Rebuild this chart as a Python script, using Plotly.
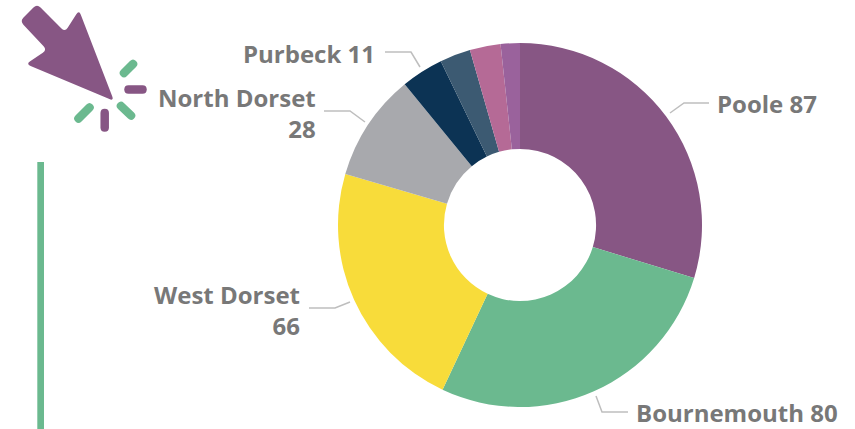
import plotly.graph_objects as go

districts = ["Poole", "Bournemouth", "West Dorset", "North Dorset", "Purbeck", "East Dorset", "Weymouth and Portland", "Christchurch"]
values = [87, 80, 66, 28, 11, 8, 8, 5]
colors = ["#875684", "#6BB98F", "#F8DC3A", "#A8A9AD", "#0C3354", "#3C5A72", "#B56A96", "#9A629C"]

W, H = 855, 429
TEXT = "#787878"
LEADER = "#BEBEBE"
PURPLE = "#875684"
GREEN = "#6BB98F"
FONT = "Open Sans"
FS = 24


def px(x):
    return x / W


def py(y):
    return 1 - y / H


def rounded(points, r):
    n = len(points)
    out = []
    for i in range(n):
        p0, p1, p2 = points[i - 1], points[i], points[(i + 1) % n]
        def toward(a, b, d):
            L = ((b[0] - a[0]) ** 2 + (b[1] - a[1]) ** 2) ** 0.5
            d = min(d, L / 2)
            return (a[0] + (b[0] - a[0]) * d / L, a[1] + (b[1] - a[1]) * d / L)
        a = toward(p1, p0, r)
        b = toward(p1, p2, r)
        out.append(f"{'M' if i == 0 else 'L'}{px(a[0]):.5f},{py(a[1]):.5f}")
        out.append(f"Q{px(p1[0]):.5f},{py(p1[1]):.5f} {px(b[0]):.5f},{py(b[1]):.5f}")
    return " ".join(out) + " Z"


def stadium(x0, y0, x1, y1, w):
    L = ((x1 - x0) ** 2 + (y1 - y0) ** 2) ** 0.5
    ux, uy = (x1 - x0) / L, (y1 - y0) / L
    nx, ny = -uy * w / 2, ux * w / 2
    ex, ey = ux * w / 2, uy * w / 2
    pts = [(x0 - ex + nx, y0 - ey + ny), (x1 + ex + nx, y1 + ey + ny),
           (x1 + ex - nx, y1 + ey - ny), (x0 - ex - nx, y0 - ey - ny)]
    return rounded(pts, w / 2)


def polyline(pts):
    return "M" + " L".join(f"{px(x):.5f},{py(y):.5f}" for x, y in pts)


fig = go.Figure(go.Pie(
    labels=districts,
    values=values,
    sort=False,
    direction="clockwise",
    rotation=0,
    hole=0.418,
    textinfo="none",
    marker=dict(colors=colors, line=dict(width=0)),
    domain=dict(x=[px(338), px(702)], y=[py(407), py(43)]),
    showlegend=False,
))

shapes = []
# icon
arrow = [(37, 4), (20, 21), (47, 50), (26, 64), (114, 101), (79, 10), (65, 32)]
shapes.append(dict(type="path", xref="paper", yref="paper", path=rounded(arrow, 5), fillcolor=PURPLE, line_width=0))
for (a, b, c, d, col) in [(124, 73, 133, 64, GREEN), (128.5, 89.5, 142.5, 89.5, PURPLE), (121, 106, 131, 115.5, GREEN),
                          (104.7, 113, 104.7, 127.5, PURPLE), (78.5, 118.5, 89.5, 107.5, GREEN)]:
    shapes.append(dict(type="path", xref="paper", yref="paper", path=stadium(a, b, c, d, 8.5), fillcolor=col, line_width=0))
shapes.append(dict(type="rect", xref="paper", yref="paper", x0=px(37.3), x1=px(44), y0=0, y1=py(162), fillcolor=GREEN, line_width=0))

# leaders
for pts in [[(670, 113), (684, 103), (709, 103)],
            [(596, 396), (602, 412), (628, 412)],
            [(350, 302), (335, 308), (309, 308)],
            [(365, 122), (350, 111), (324, 111)],
            [(420, 67), (411, 52), (385, 52)]]:
    shapes.append(dict(type="path", xref="paper", yref="paper", path=polyline(pts), line=dict(color=LEADER, width=1.5)))

label_layout = [
    (0, 715, 103.5, "left", " "),
    (1, 634, 412.5, "left", " "),
    (2, 302, 310, "right", "<br>"),
    (3, 318, 113, "right", "<br>"),
    (4, 377, 54, "right", " "),
]
annotations = []
for i, x, y, side, sep in label_layout:
    annotations.append(dict(
        text=f"{districts[i]}{sep}{values[i]}",
        x=px(x), y=py(y), xref="paper", yref="paper",
        xanchor=side, yanchor="middle", align=side, showarrow=False,
        font=dict(family=FONT, size=FS, color=TEXT, weight="bold"),
    ))

fig.update_layout(
    width=W, height=H,
    margin=dict(l=0, r=0, t=0, b=0),
    paper_bgcolor="white", plot_bgcolor="white",
    shapes=shapes, annotations=annotations,
)
fig.write_html("out.html", config=dict(displayModeBar=False),
               post_script="document.body.style.margin='0';document.documentElement.style.overflow='hidden';")
